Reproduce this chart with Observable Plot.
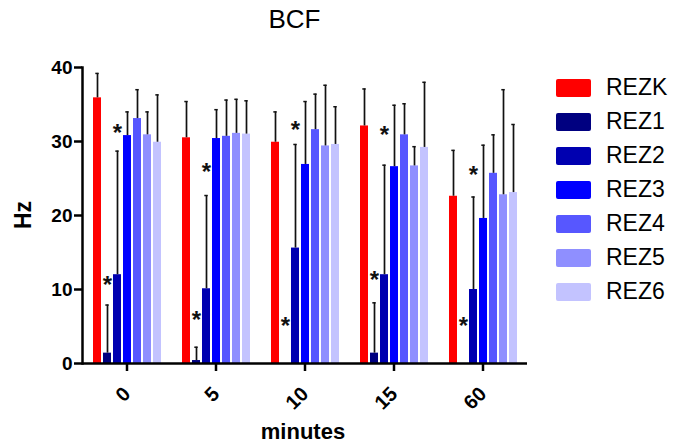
<!DOCTYPE html>
<html>
<head>
<meta charset="utf-8">
<script src="https://cdn.jsdelivr.net/npm/d3@7"></script>
<script src="https://cdn.jsdelivr.net/npm/@observablehq/plot@0.6"></script>
<style>
  html, body { margin: 0; padding: 0; background: #fff; }
  #wrap { position: relative; width: 685px; height: 448px; overflow: hidden;
          font-family: "Liberation Sans", Arial, sans-serif; color: #000; }
  #wrap svg { position: absolute; left: 0; top: 0; }
  #title { position: absolute; left: 194.5px; width: 200px; top: 6px; text-align: center;
           font-size: 26px; line-height: 26px; }
  #xlabel { position: absolute; left: 203px; width: 200px; top: 421px; text-align: center;
            font-size: 22px; line-height: 22px; font-weight: bold; }
  #ylabel { position: absolute; left: -7.5px; width: 60px; top: 200px; height: 30px; line-height: 30px;
            text-align: center; font-size: 23px; font-weight: bold; transform: rotate(-90deg); }
  #legend { position: absolute; left: 556px; top: 70.5px; }
  .item { display: flex; align-items: center; height: 34px; }
  .sw { width: 35px; height: 18px; border-radius: 2px; margin-right: 15px; }
  .lab { font-size: 23px; line-height: 23px; }
</style>
</head>
<body>
<div id="wrap">
  <div id="title">BCF</div>
  <div id="ylabel">Hz</div>
  <div id="xlabel">minutes</div>
  <div id="legend"></div>
</div>
<script>
// ---- data ----
const minutes = [0, 5, 10, 15, 60];
const series = ["REZK", "REZ1", "REZ2", "REZ3", "REZ4", "REZ5", "REZ6"];
const colors = ["#ff0000", "#000080", "#0000b0", "#0000ff", "#5757ff", "#8f8fff", "#c3c3ff"];
const yTicks = [0, 10, 20, 30, 40];

// mean values (Hz) per series, in the order of `minutes`
const meanREZK = [35.9, 30.5, 29.9, 32.1, 22.6];
const meanREZ1 = [1.4, 0.4, 0, 1.4, 0];
const meanREZ2 = [12.0, 10.1, 15.6, 12.0, 10.0];
const meanREZ3 = [30.8, 30.4, 26.9, 26.6, 19.6];
const meanREZ4 = [33.1, 30.7, 31.6, 30.9, 25.7];
const meanREZ5 = [30.9, 31.1, 29.4, 26.7, 22.8];
const meanREZ6 = [29.9, 31.0, 29.6, 29.2, 23.1];

// standard deviations (upper error bars)
const sdREZK = [3.3, 4.9, 4.1, 5.0, 6.2];
const sdREZ1 = [6.5, 1.8, 0, 6.8, 0];
const sdREZ2 = [16.7, 12.6, 14.0, 14.8, 12.5];
const sdREZ3 = [3.2, 3.9, 8.5, 8.3, 9.9];
const sdREZ4 = [3.9, 4.9, 4.8, 4.2, 5.2];
const sdREZ5 = [3.1, 4.6, 8.2, 2.6, 14.2];
const sdREZ6 = [6.4, 4.5, 5.1, 8.8, 9.2];

// significance asterisks: series column and height (Hz) per minute
const starSeries = ["REZ1", "REZ2"];
const starREZ1 = [11.4, 6.7, 5.9, 12.1, 5.8];
const starREZ2 = [31.9, 26.7, 32.3, 31.6, 26.2];

// ---- build table ----
const means = [meanREZK, meanREZ1, meanREZ2, meanREZ3, meanREZ4, meanREZ5, meanREZ6];
const sds = [sdREZK, sdREZ1, sdREZ2, sdREZ3, sdREZ4, sdREZ5, sdREZ6];
const rows = [];
series.forEach((s, i) => minutes.forEach((m, j) => {
  rows.push({series: s, minute: m, mean: means[i][j], sd: sds[i][j], top: means[i][j] + sds[i][j]});
}));
const errRows = rows.filter(d => d.sd > 0);
const stars = [];
[starREZ1, starREZ2].forEach((arr, k) => minutes.forEach((m, j) => {
  stars.push({series: starSeries[k], minute: m, y: arr[j]});
}));

const font = "'Liberation Sans', Arial, sans-serif";

const chart = Plot.plot({
  width: 685,
  height: 448,
  marginLeft: 82,
  marginRight: 158,
  marginTop: 67,
  marginBottom: 85,
  style: {fontFamily: font, background: "transparent", color: "#000"},
  fx: {domain: minutes, padding: 0},
  x: {domain: series, paddingInner: 0.25, paddingOuter: 1.075, axis: null},
  y: {domain: [0, 40]},
  color: {domain: series, range: colors},
  marks: [
    Plot.barY(rows, {fx: "minute", x: "series", y: "mean", fill: "series"}),
    Plot.ruleX(errRows, {fx: "minute", x: "series", y1: "mean", y2: "top", stroke: "#111", strokeWidth: 1.7}),
    Plot.tickY(errRows, {fx: "minute", x: "series", y: "top", stroke: "#111", strokeWidth: 1.5, insetLeft: 2.3, insetRight: 2.3}),
    Plot.text(stars, {fx: "minute", x: "series", y: "y", text: () => "*", fontSize: 24, fontWeight: "bold", lineAnchor: "bottom", dy: 13.8, fill: "#111"}),
    Plot.ruleY([0], {stroke: "#000", strokeWidth: 2.5}),
    Plot.frame({anchor: "left", facetAnchor: "left", stroke: "#000", strokeWidth: 2.5}),
    Plot.axisY({ticks: yTicks, tickSize: 8, tickPadding: 2, fontSize: 19, fontWeight: "bold", label: null, strokeWidth: 2.5}),
    Plot.axisFx({anchor: "bottom", tickSize: 8, tickPadding: 19, tickRotate: -45, fontSize: 20, fontWeight: "bold", label: null, strokeWidth: 2.5})
  ]
});
document.getElementById("wrap").insertBefore(chart, document.getElementById("wrap").firstChild);

// legend (HTML, from the data arrays)
const leg = document.getElementById("legend");
series.forEach((s, i) => {
  const it = document.createElement("div");
  it.className = "item";
  const sw = document.createElement("div");
  sw.className = "sw";
  sw.style.background = colors[i];
  const lb = document.createElement("span");
  lb.className = "lab";
  lb.textContent = s;
  it.appendChild(sw); it.appendChild(lb);
  leg.appendChild(it);
});
</script>
</body>
</html>
